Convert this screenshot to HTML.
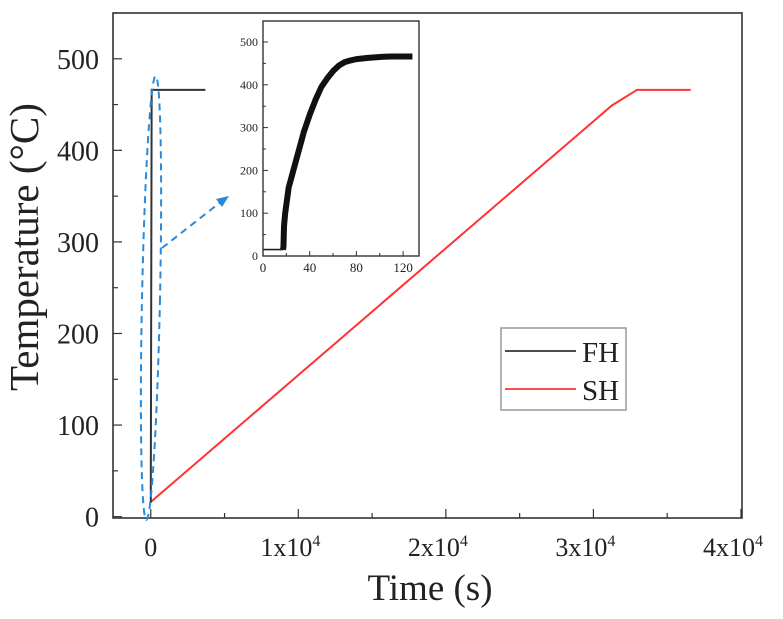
<!DOCTYPE html>
<html><head><meta charset="utf-8"><style>
body{margin:0;background:#fff;}
svg text{font-family:"Liberation Serif",serif;fill:#222;}
</style></head><body>
<svg id="chart" width="783" height="614" viewBox="0 0 783 614" xmlns="http://www.w3.org/2000/svg"></svg>
<script>
// main data
const fhTime=[0,60,3700];
const fhTemp=[15,466,466];
const shTime=[0,31250,32950,36600];
const shTemp=[16,449,466,466];
const xTicks=[0,10000,20000,30000,40000];
const xTickLabels=["0","1x10","2x10","3x10","4x10"];
const yTicks=[0,100,200,300,400,500];
// inset data
const insetTime=[0,17,17.5,18,19,20,22,25,28,30,35,40,45,50,55,60,65,70,75,80,90,100,110,128];
const insetTemp=[15,15,20,70,100,120,160,190,220,240,290,330,365,395,415,432,445,453,457,460,463,465,466,466];
const insetXTicks=[0,40,80,120];
const insetYTicks=[0,100,200,300,400,500];

const NS="http://www.w3.org/2000/svg";
const svg=document.getElementById('chart');
function mk(tag,attrs,parent){const e=document.createElementNS(NS,tag);for(const k in attrs)e.setAttribute(k,attrs[k]);(parent||svg).appendChild(e);return e;}

const X0=113,X1=742,Y0=518,Y1=13;
const xmin=-2560,xmax=40070,ymin=-1.5,ymax=550;
const sx=v=>X0+(v-xmin)/(xmax-xmin)*(X1-X0);
const sy=v=>Y0-(v-ymin)/(ymax-ymin)*(Y0-Y1);

for(let v=0;v<=40000;v+=5000){
  const major=v%10000===0;
  const t=mk('line',{x1:sx(v),x2:sx(v),y1:Y0,y2:Y0-(major?9:5),stroke:'#333','stroke-width':1.2});
  
  
}
xTicks.forEach((v,i)=>{
  const t=mk('text',{x:sx(v)+(i?-8:0),y:556,'font-size':26,'text-anchor':'middle'});
  
  
  t.textContent=xTickLabels[i];
  if(i){const s=mk('tspan',{dy:-10,'font-size':16},t);s.textContent='4';}
});
for(let v=0;v<=550;v+=50){
  const major=v%100===0;
  const t=mk('line',{x1:X0,x2:X0+(major?9:5),y1:sy(v),y2:sy(v),stroke:'#333','stroke-width':1.2});
  
  
}
yTicks.forEach(v=>{
  const t=mk('text',{x:99,y:sy(v)+10,'font-size':28,'text-anchor':'end'});
  
  
  t.textContent=v;
});
const xt=mk('text',{x:430,y:600,'font-size':37,'text-anchor':'middle'});


xt.textContent='Time (s)';
const yt=mk('text',{x:0,y:0,'font-size':41,'text-anchor':'middle',transform:'translate(38,247) rotate(-90)'});


yt.textContent='Temperature (°C)';

const pts=(xs,ys,fx,fy)=>xs.map((x,i)=>fx(x)+','+fy(ys[i])).join(' ');
const sh=mk('polyline',{points:pts(shTime,shTemp,sx,sy),fill:'none',stroke:'#f33','stroke-width':2});


const fh=mk('polyline',{points:pts(fhTime,fhTemp,sx,sy),fill:'none',stroke:'#333','stroke-width':2});



const fr=mk('rect',{x:X0,y:Y1,width:X1-X0,height:Y0-Y1,fill:'none',stroke:'#333','stroke-width':1.6});



const el=mk('ellipse',{cx:151,cy:298,rx:9,ry:222,fill:'none',stroke:'#2a8ad8','stroke-width':2,'stroke-dasharray':'7,5',transform:'rotate(1.2 151 298)'});


const ar=mk('line',{x1:162,y1:248,x2:222,y2:201,stroke:'#2a8ad8','stroke-width':2,'stroke-dasharray':'7,5'});


const ah=mk('polygon',{points:'229,196 216,199 222,207',fill:'#2a8ad8'});



const lg=mk('g',{});


mk('rect',{x:501,y:328,width:125,height:82,fill:'#fff',stroke:'#999','stroke-width':1.5},lg);
mk('line',{x1:505,x2:576,y1:351,y2:351,stroke:'#333','stroke-width':1.8},lg);
mk('line',{x1:505,x2:576,y1:389,y2:389,stroke:'#f33','stroke-width':1.8},lg);
const l1=mk('text',{x:582,y:362,'font-size':29},lg);l1.textContent='FH';


const l2=mk('text',{x:582,y:400,'font-size':29},lg);l2.textContent='SH';



const IX0=263,IX1=413,IY0=256,IY1=21;
const ix=v=>IX0+v/40*46.7;
const iy=v=>IY0-v/100*42.8;
const ig=mk('g',{});


mk('rect',{x:IX0,y:IY1,width:IX1-IX0,height:IY0-IY1,fill:'#fff',stroke:'none'},ig);
for(let v=0;v<=120;v+=20){mk('line',{x1:ix(v),x2:ix(v),y1:IY0,y2:IY0-(v%40===0?5:3),stroke:'#333'},ig);}
for(let v=0;v<=500;v+=50){mk('line',{x1:IX0,x2:IX0+(v%100===0?5:3),y1:iy(v),y2:iy(v),stroke:'#333'},ig);}
insetXTicks.forEach(v=>{const t=mk('text',{x:ix(v),y:272,'font-size':13,'text-anchor':'middle'},ig);t.textContent=v;

});
insetYTicks.forEach(v=>{const t=mk('text',{x:258,y:iy(v)+4,'font-size':12,'text-anchor':'end'},ig);t.textContent=v;

});
const ic=mk('polyline',{points:pts(insetTime.slice(0,3),insetTemp.slice(0,3),ix,iy),fill:'none',stroke:'#222','stroke-width':1.6},ig);


const ic2=mk('polyline',{points:pts(insetTime.slice(1),insetTemp.slice(1),ix,iy),fill:'none',stroke:'#111','stroke-width':6,'stroke-linejoin':'round'},ig);


mk('rect',{x:IX0,y:IY1,width:IX1-IX0+6,height:IY0-IY1,fill:'none',stroke:'#333','stroke-width':1.4},ig);
</script>
</body></html>
